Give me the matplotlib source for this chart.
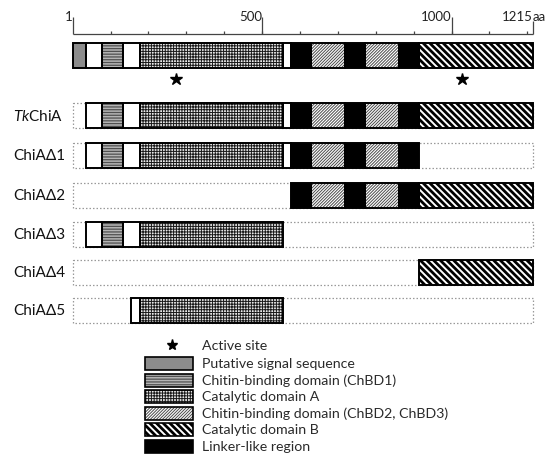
import matplotlib
matplotlib.use("Agg")
import matplotlib.pyplot as plt
from matplotlib.patches import Rectangle
from matplotlib.transforms import blended_transform_factory

plt.rcParams['font.family'] = ['Lato', 'DejaVu Sans']
plt.rcParams['mathtext.fontset'] = 'custom'
plt.rcParams['mathtext.rm'] = 'Lato'
plt.rcParams['mathtext.it'] = 'Lato:italic'

# ---- data -------------------------------------------------------------
protein_length = 1215
ruler_ticks = list(range(100, 1201, 100))
ruler_labels = [1, 500, 1000, 1215]

# domain map of the full-length protein: (start, end, kind)
domain_start = [1, 35, 77, 133, 178, 554, 576, 628, 720, 771, 862, 915]
domain_end = [35, 77, 133, 178, 554, 576, 628, 720, 771, 862, 915, 1215]
domain_kind = ["signal", "blank", "chbd1", "blank", "catA", "blank",
               "linker", "chbd23", "linker", "chbd23", "linker", "catB"]

active_sites = [272, 1027]

construct_names = [r"$\mathit{Tk}$ChiA", "ChiAΔ1", "ChiAΔ2", "ChiAΔ3",
                   "ChiAΔ4", "ChiAΔ5"]
construct_start = [36, 36, 576, 36, 915, 155]
construct_end = [1215, 915, 1215, 554, 1215, 554]

legend_kinds = ["signal", "chbd1", "catA", "chbd23", "catB", "linker"]
legend_labels = ["Putative signal sequence", "Chitin-binding domain (ChBD1)",
                 "Catalytic domain A", "Chitin-binding domain (ChBD2, ChBD3)",
                 "Catalytic domain B", "Linker-like region"]

# fill colour, hatch pattern, hatch colour, hatch line width
STYLE = {
    "blank": ("white", None, "black", 0.5),
    "signal": ("#8c8c8c", None, "black", 0.5),
    "chbd1": ("#b4b4b4", "------", "#505050", 0.9),
    "catA": ("#e8e8e8", "++++++", "#1a1a1a", 0.7),
    "chbd23": ("white", "/" * 11, "#4a4a4a", 0.7),
    "catB": ("white", "\\" * 5, "black", 2.0),
    "linker": ("black", None, "black", 0.5),
}

# ---- layout -----------------------------------------------------------
W, H = 547, 460
X0_PX, PX_PER_RES = 73.0, 0.37891


def px2res(px):
    return 1 + (px - X0_PX) / PX_PER_RES


fig = plt.figure(figsize=(W / 100, H / 100), dpi=100)
ax = fig.add_axes([0, 0, 1, 1])
ax.set_xlim(px2res(0), px2res(W))
ax.set_ylim(H, 0)
ax.axis("off")
label_tr = blended_transform_factory(ax.transAxes, ax.transData)
renderer = fig.canvas.get_renderer()

BAR_H = 25


def segment(x0, x1, yc, kind, h=BAR_H, lw=1.4, z=3):
    face, hatch, hcol, hlw = STYLE[kind]
    fill = Rectangle((x0, yc - h / 2), x1 - x0, h, facecolor=face,
                     edgecolor=hcol, hatch=hatch, linewidth=0, zorder=z)
    if hatch and hasattr(fill, "set_hatch_linewidth"):
        fill.set_hatch_linewidth(hlw)
    ax.add_patch(fill)
    ax.add_patch(Rectangle((x0, yc - h / 2), x1 - x0, h, fill=False,
                           edgecolor="black", linewidth=lw, zorder=z + 1))


# ruler
ruler_y = 35
ax.hlines(ruler_y, 1, protein_length, color="#444444", lw=0.9)
ax.vlines(ruler_ticks, ruler_y - 3.5, ruler_y, color="#444444", lw=0.9)
for v in ruler_labels:
    top = ruler_y - (13 if v == protein_length else 17)
    ax.vlines(v, top, ruler_y, color="#444444", lw=0.9)
    ax.text(v, 17, str(v), ha="right", va="center", fontsize=9.5,
            color="#222222")
ax.text(protein_length, 17, "aa", ha="left", va="center", fontsize=9.5,
        color="#222222")

# full-length domain map
top_y = 56.5
for s, e, k in zip(domain_start, domain_end, domain_kind):
    segment(s, e, top_y, k)
ax.plot(active_sites, [80] * len(active_sites), linestyle="none",
        marker="*", markersize=9, color="black")

# deletion constructs
row_y = [116.5, 156.5, 196, 235, 273, 311]
for name, cs, ce, yc in zip(construct_names, construct_start,
                            construct_end, row_y):
    ax.add_patch(Rectangle((1, yc - BAR_H / 2), protein_length - 1, BAR_H,
                           fill=False, edgecolor="#9a9a9a", linewidth=0.9,
                           linestyle=(0, (1.2, 1.6)), zorder=1))
    for s, e, k in zip(domain_start, domain_end, domain_kind):
        a, b = max(s, cs), min(e, ce)
        if b > a:
            segment(a, b, yc, k)
    ax.text(13 / W, yc, name, ha="left", va="center", fontsize=11,
            color="#111111", transform=label_tr)

# key
key_x0, key_x1, key_text = px2res(145), px2res(193), px2res(202)
ax.plot([px2res(172)], [346], linestyle="none", marker="*", markersize=8,
        color="black")
key_y = [364.5, 381, 397.5, 414, 430.5, 447]

# size the key text so the longest entry spans about 246 px
probe = ax.text(0, 0, max(legend_labels, key=len), fontsize=10)
key_fs = 10 * 246 / probe.get_window_extent(renderer).width
probe.remove()

ax.text(key_text, 346, "Active site", ha="left", va="center",
        fontsize=key_fs, color="#2a2a2a")
for k, lab, yc in zip(legend_kinds, legend_labels, key_y):
    segment(key_x0, key_x1, yc, k, h=13, lw=1.2)
    ax.text(key_text, yc, lab, ha="left", va="center", fontsize=key_fs,
            color="#2a2a2a")

fig.savefig("out.png", dpi=100)
